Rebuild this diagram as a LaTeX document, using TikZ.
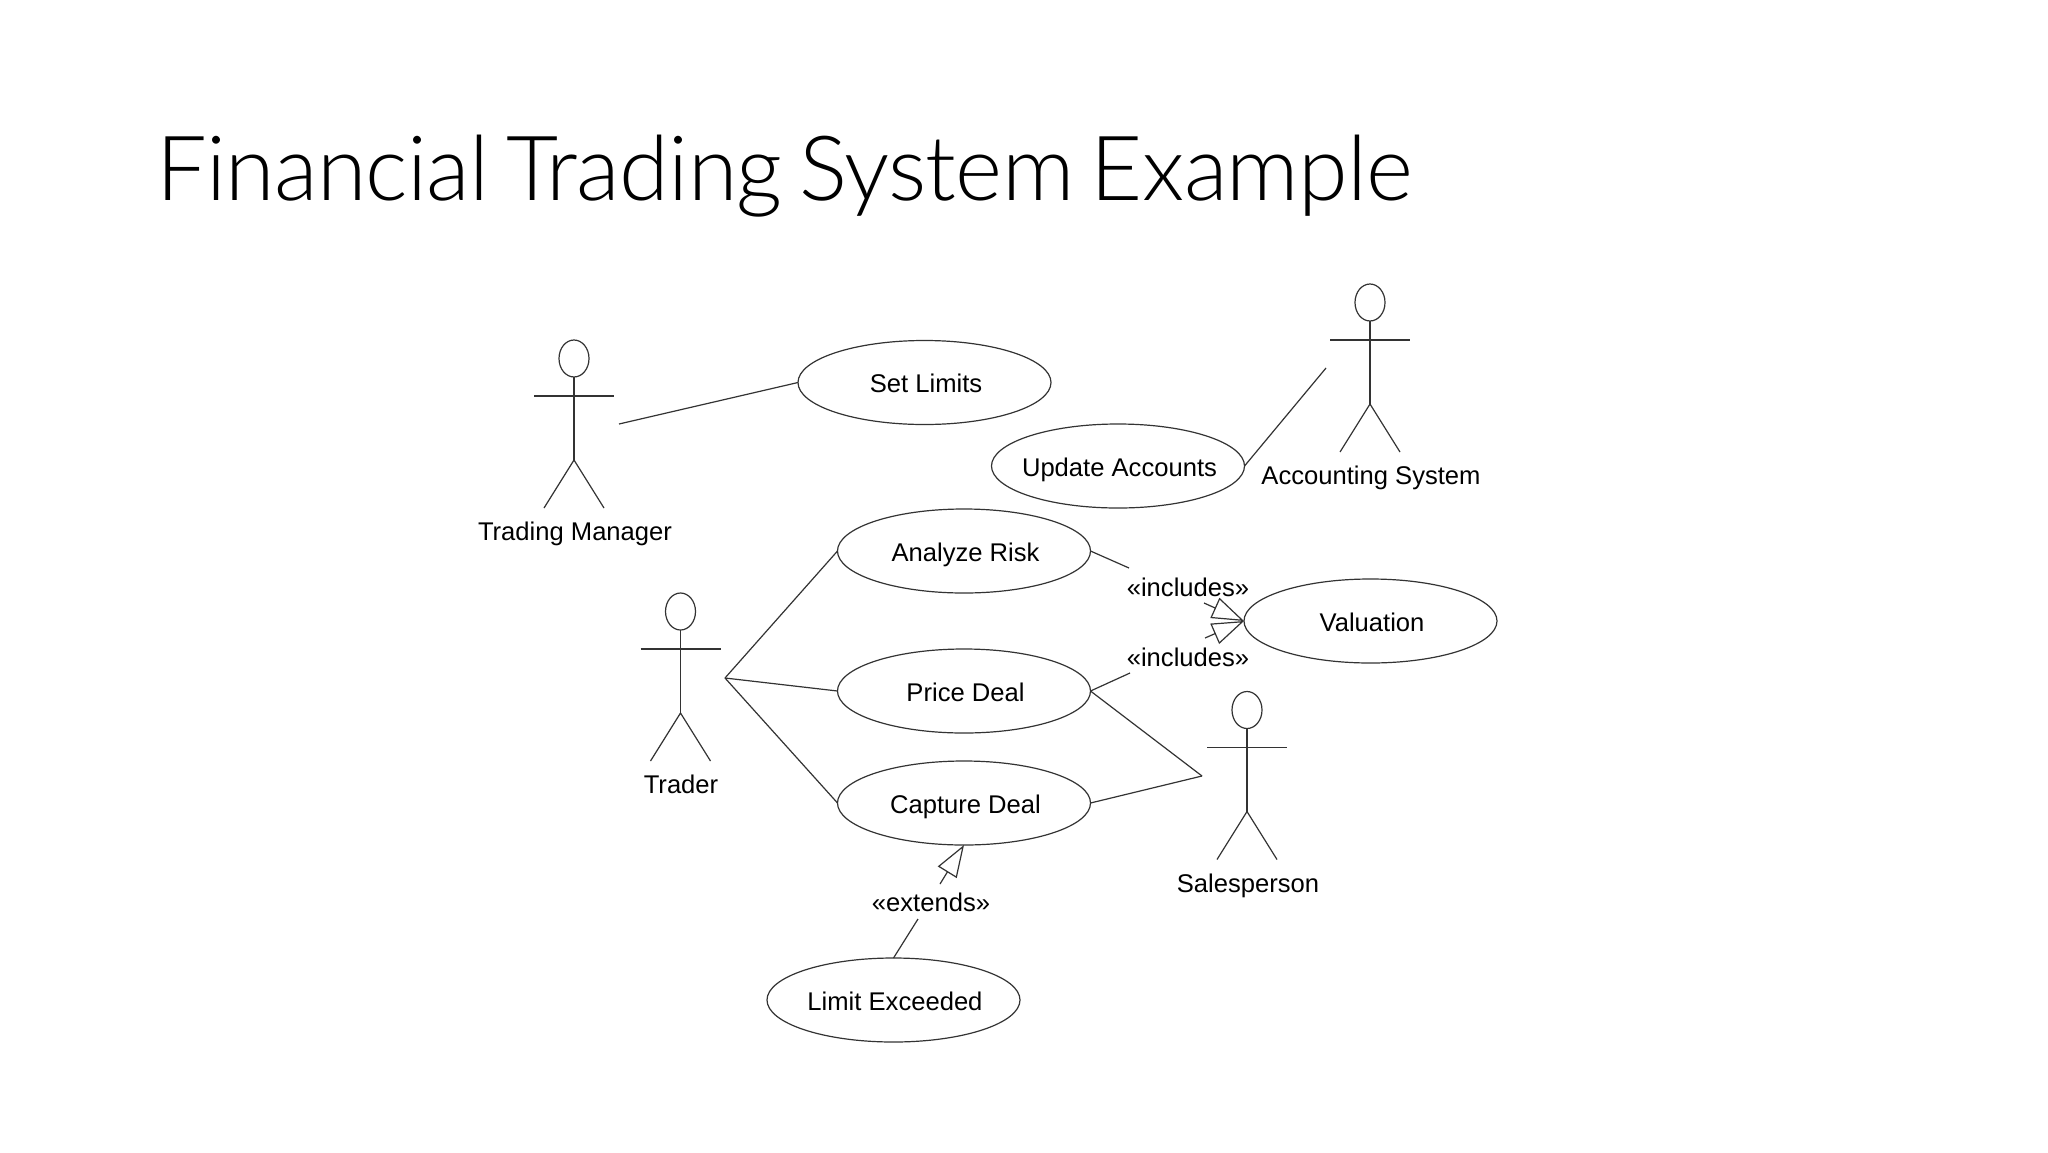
\documentclass[tikz,border=0pt]{standalone}
\usepackage{fontspec}
\setmainfont{Liberation Sans}
\newfontfamily\titlefont[WordSpace=0.7,LetterSpace=-0.8]{Lato Light}
\usetikzlibrary{shapes.geometric,arrows.meta}
\definecolor{ink}{HTML}{333333}
\newcommand{\uctext}[1]{\hspace*{3pt}\clap{#1}}
\tikzset{
  x=1pt,y=-1pt,
  ln/.style={draw=ink,line width=1.2pt},
  usecase/.style={ellipse,ln,minimum width=253pt,minimum height=84pt,inner sep=0pt,outer sep=0pt,text height=26pt,text depth=6pt,font=\fontsize{25.6}{30}\selectfont,text=black},
  lbl/.style={inner sep=0pt,outer sep=0pt,text height=26pt,text depth=6pt,font=\fontsize{25.6}{30}\selectfont,text=black},
  openhead/.style={ln,-{Triangle[open,length=32pt,width=22pt,fill=white]}},
  actor/.pic={
    \draw[ln] (0,18.5) ellipse [x radius=15,y radius=18.5];
    \draw[ln] (0,37) -- (0,120);
    \draw[ln] (-40,56) -- (40,56);
    \draw[ln] (-30,168) -- (0,120) -- (30,168);
  }
}
\begin{document}
\begin{tikzpicture}
\useasboundingbox (0,0) rectangle (2048,1152);
\fill[white] (0,0) rectangle (2048,1152);
\node[anchor=base west,inner sep=0pt,font=\titlefont\fontsize{90}{100}\selectfont,text=black] (title) at (156,200) {Financial Trading System Example};

\node[usecase] (setlimits) at (924.5,382.5) {\uctext{Set Limits}};
\node[usecase] (update) at (1118,466) {\uctext{Update Accounts}};
\node[usecase] (analyze) at (964,551) {\uctext{Analyze Risk}};
\node[usecase] (price) at (964,691) {\uctext{Price Deal}};
\node[usecase] (capture) at (964,803) {\uctext{Capture Deal}};
\node[usecase] (limit) at (893.5,1000) {\uctext{Limit Exceeded}};
\node[usecase] (valuation) at (1370.5,621) {\uctext{Valuation}};

\pic at (574,340) {actor};
\pic at (1370,284) {actor};
\pic at (680.5,593) {actor};
\pic at (1247,691.5) {actor};
\node[lbl] (tmlabel) at (575,530) {Trading Manager};
\node[lbl] (aslabel) at (1371,474.5) {Accounting System};
\node[lbl] (trlabel) at (681,783.5) {Trader};
\node[lbl] (splabel) at (1248,882.5) {Salesperson};

\node[lbl] (inc1) at (1188,586) {«includes»};
\node[lbl] (inc2) at (1188,656) {«includes»};
\node[lbl] (ext) at (931,901.7) {«extends»};

\coordinate (tmhand) at (619,424);
\coordinate (ashand) at (1326,368);
\coordinate (trhand) at (725,678);
\coordinate (sphand) at (1202,776);
\coordinate (a1) at (1129,568);
\coordinate (p1) at (1130,673);
\coordinate (s1) at (1204,603);
\coordinate (s2) at (1205,638);
\coordinate (e1) at (918,919);
\coordinate (e2) at (940,884);

\draw[ln] (tmhand) -- (setlimits.west);
\draw[ln] (update.east) -- (ashand);
\draw[ln] (trhand) -- (analyze.west);
\draw[ln] (trhand) -- (price.west);
\draw[ln] (trhand) -- (capture.west);
\draw[ln] (price.east) -- (sphand);
\draw[ln] (capture.east) -- (sphand);
\draw[ln] (analyze.east) -- (a1);
\draw[ln] (price.east) -- (p1);
\draw[openhead] (s1) -- (valuation.west);
\draw[openhead] (s2) -- (valuation.west);
\draw[ln] (limit.north) -- (e1);
\draw[openhead] (e2) -- (capture.south);
\end{tikzpicture}
\end{document}
